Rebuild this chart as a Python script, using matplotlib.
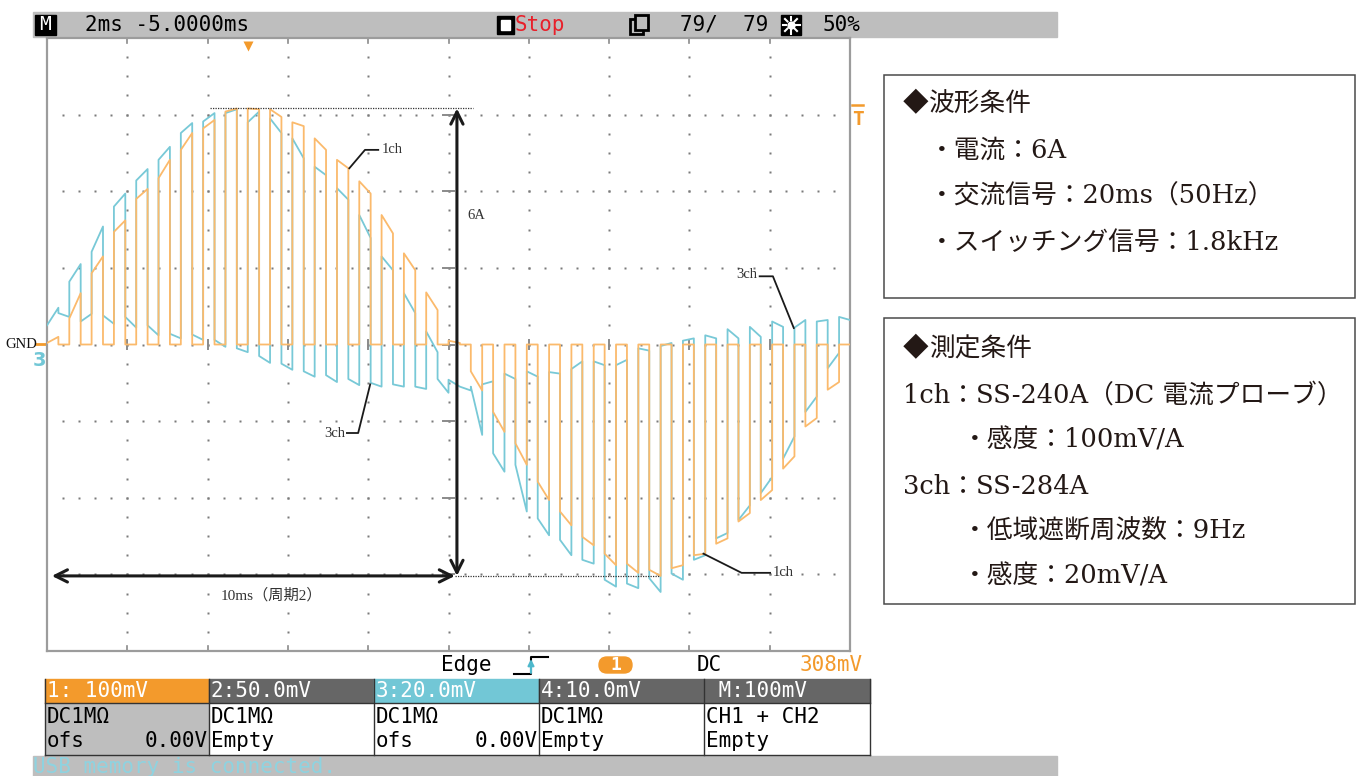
import numpy as np
import matplotlib
matplotlib.use("Agg")
import matplotlib.pyplot as plt
from matplotlib.patches import Rectangle, FancyBboxPatch

# ---------------------------------------------------------------------------
# Acquisition settings: 2 ms/div, 10 div, 1 A/div on both channels
# ---------------------------------------------------------------------------
sweep_ms = 20.0
n_periods = 36          # 1.8 kHz switching over 20 ms
duty = 0.51

# 1ch (DC current probe) level during each ON interval [A]
ch1_on_start = [0.02, 0.34, 0.93, 1.47, 1.90, 2.17, 2.54, 2.82, 3.04, 3.08,
                3.07, 2.90, 2.69, 2.41, 2.13, 1.69, 1.19, 0.68,
                0.05, -0.35, -0.88, -1.29, -1.79, -2.18, -2.51, -2.73, -2.86,
                -2.94, -2.92, -2.75, -2.60, -2.31, -2.03, -1.62, -1.07, -0.59]
ch1_on_end = [0.10, 0.67, 1.15, 1.62, 2.03, 2.41, 2.76, 2.93, 3.08, 3.07,
              2.97, 2.85, 2.54, 2.30, 1.97, 1.45, 0.97, 0.45,
              0.02, -0.60, -1.14, -1.57, -2.03, -2.36, -2.62, -2.88, -2.98,
              -3.02, -2.88, -2.73, -2.53, -2.20, -1.90, -1.46, -0.96, -0.49]

# 3ch (AC current probe, 9 Hz low cut) during ON intervals [A]
ch3_on_start = [0.25, 0.82, 1.21, 1.80, 2.14, 2.41, 2.76, 2.91, 3.02, 2.90,
                2.95, 2.69, 2.32, 2.04, 1.69, 1.15, 0.67, 0.17,
                -0.46, -0.55, -1.42, -1.57, -2.27, -2.55, -2.81, -3.07, -3.12,
                -3.05, -2.99, -2.81, -2.53, -2.29, -1.94, -1.49, -0.88, -0.31]
ch3_on_end = [0.48, 1.05, 1.54, 1.97, 2.29, 2.58, 2.89, 3.02, 3.07, 3.04,
              2.76, 2.43, 2.21, 1.89, 1.39, 0.97, 0.41, -0.10,
              -0.55, -1.18, -1.66, -2.18, -2.49, -2.75, -2.86, -3.16, -3.18,
              -3.23, -3.07, -2.75, -2.46, -2.10, -1.73, -1.20, -0.68, -0.11]
# 3ch during OFF intervals [A]
ch3_off_start = [0.41, 0.30, 0.38, 0.36, 0.25, 0.14, 0.13, 0.06, -0.05, -0.15,
                 -0.25, -0.35, -0.40, -0.45, -0.50, -0.52, -0.55, -0.45,
                 -0.55, -0.52, -0.38, -0.35, -0.36, -0.32, -0.22, -0.27, -0.05,
                 -0.02, 0.05, 0.12, 0.20, 0.23, 0.30, 0.22, 0.30, 0.36]
ch3_off_end = [0.36, 0.40, 0.27, 0.22, 0.12, 0.08, 0.06, -0.03, -0.10, -0.24,
               -0.33, -0.42, -0.49, -0.53, -0.55, -0.55, -0.58, -0.63,
               -0.60, -0.48, -0.45, -0.42, -0.38, -0.22, -0.27, -0.20, -0.08,
               0.02, 0.08, 0.08, 0.08, 0.10, 0.23, 0.32, 0.32, 0.32]

trig_level = 3.08       # 308 mV on 1ch
trig_pos_ms = 5.0

header_labels = ["1: 100mV", "2:50.0mV", "3:20.0mV", "4:10.0mV", " M:100mV"]
row2_labels = ["DC1M\u03a9", "DC1M\u03a9", "DC1M\u03a9", "DC1M\u03a9", "CH1 + CH2"]
row3_left = ["ofs", "Empty", "ofs", "Empty", "Empty"]
row3_right = ["0.00V", "", "0.00V", "", ""]

box1_title = "波形条件"
box1_lines = ["・電流：6A", "・交流信号：20ms（50Hz）", "・スイッチング信号：1.8kHz"]
box2_title = "測定条件"
box2_lines = ["1ch：SS-240A（DC 電流プローブ）", "・感度：100mV/A",
              "3ch：SS-284A", "・低域遮断周波数：9Hz", "・感度：20mV/A"]

# ---------------------------------------------------------------------------
ORANGE = "#FBBA6C"
CYAN = "#78C9D7"
ORANGE_UI = "#F39A2C"
CYAN_UI = "#72C7D6"
GRAY_BAR = "#BEBEBE"
DARK_UI = "#666666"
MONO = "DejaVu Sans Mono"
SERIF = ["Liberation Serif", "Noto Sans CJK JP", "DejaVu Sans"]
BOXFONT = ["DejaVu Serif", "Noto Sans CJK JP", "DejaVu Sans"]
CJK = ["Noto Sans CJK JP", "DejaVu Sans"]

W, H = 1363, 776
fig = plt.figure(figsize=(W / 100, H / 100), dpi=100)
fig.patch.set_facecolor("white")

ov = fig.add_axes([0, 0, 1, 1], zorder=0)
ov.set_xlim(0, W)
ov.set_ylim(H, 0)
ov.axis("off")

L, R, TOP, BOT = 47, 850, 38, 651
ax = fig.add_axes([L / W, (H - BOT) / H, (R - L) / W, (BOT - TOP) / H], zorder=2)
ax.set_xlim(0, sweep_ms)
ax.set_ylim(-4, 4)
ax.set_xticks([])
ax.set_yticks([])
for s in ax.spines.values():
    s.set_color("#9c9c9c")
    s.set_linewidth(1.6)

# graticule
dot = dict(ls="none", marker="s", ms=1.6, color="#7a7a7a", mec="none")
xs = np.arange(1, 50) * 0.4
for yv in range(-3, 4):
    ax.plot(xs, np.full_like(xs, yv), **dot)
ys = np.arange(-15, 16) * 0.25
for xv in range(2, 20, 2):
    ax.plot(np.full_like(ys, xv), ys, **dot)
for xv in range(2, 20, 2):
    ax.plot([xv, xv], [-0.06, 0.06], color="#8a8a8a", lw=1.4)
    ax.plot([xv, xv], [4, 3.93], color="#8a8a8a", lw=1.2)
    ax.plot([xv, xv], [-4, -3.93], color="#8a8a8a", lw=1.2)
for yv in range(-3, 4):
    ax.plot([9.87, 10.13], [yv, yv], color="#8a8a8a", lw=1.4)


def build_trace(on_s, on_e, off_s, off_e):
    T = sweep_ms / n_periods
    t, v = [], []
    for m in range(n_periods):
        t0 = m * T
        t1 = t0 + duty * T
        t += [t0, t1, t1, t0 + T]
        v += [on_s[m], on_e[m], off_s[m], off_e[m]]
    return np.array(t), np.array(v)


zeros = [0.0] * n_periods
t3, v3 = build_trace(ch3_on_start, ch3_on_end, ch3_off_start, ch3_off_end)
t1, v1 = build_trace(ch1_on_start, ch1_on_end, zeros, zeros)
ax.plot(t3, v3, color=CYAN, lw=1.3, zorder=3)
ax.plot(t1, v1, color=ORANGE, lw=1.3, zorder=4)

# markers: trigger position / level
ax.plot([trig_pos_ms], [3.9], marker="v", color=ORANGE_UI, ms=7, mec="none",
        clip_on=False, zorder=6)
ax.plot([20.05, 20.32], [trig_level + 0.05, trig_level + 0.05],
        color=ORANGE_UI, lw=1.8, clip_on=False)
ax.text(20.19, trig_level - 0.02, "T", color=ORANGE_UI, fontsize=14,
        fontweight="bold", family=MONO, ha="center", va="top", clip_on=False)

# amplitude / period annotation
ymax, ymin = max(ch1_on_start + ch1_on_end), min(ch1_on_start + ch1_on_end)
ax.plot([4.06, 10.6], [ymax, ymax], color="#333333", lw=0.9, ls=(0, (1, 1)), zorder=5)
ax.plot([10.15, 15.27], [ymin, ymin], color="#333333", lw=0.9, ls=(0, (1, 1)), zorder=5)
arrow = dict(arrowstyle="<->", color="#1a1a1a", lw=2.2, mutation_scale=22,
             shrinkA=0, shrinkB=0)
ax.annotate("", xy=(10.21, ymax), xytext=(10.21, ymin), arrowprops=arrow, zorder=6)
ax.annotate("", xy=(0.12, ymin), xytext=(10.16, ymin), arrowprops=arrow, zorder=6)
ax.text(10.46, 1.68, "6A", fontsize=10.5, family=SERIF, color="#333333",
        ha="left", va="center")
ax.text(5.6, -3.27, "10ms（周期2）", fontsize=11, family=SERIF, color="#333333",
        ha="center", va="center")

# channel callouts
lead = dict(color="#1a1a1a", lw=1.3, zorder=6)
ax.plot([7.53, 7.92, 8.25], [2.30, 2.54, 2.54], **lead)
ax.text(8.33, 2.54, "1ch", fontsize=10.5, family=SERIF, color="#333333", va="center")
ax.plot([8.05, 7.75, 7.47], [-0.52, -1.155, -1.155], **lead)
ax.text(7.42, -1.155, "3ch", fontsize=10.5, family=SERIF, color="#333333",
        ha="right", va="center")
ax.plot([16.35, 17.30, 18.01], [-2.73, -2.98, -2.98], **lead)
ax.text(18.08, -2.98, "1ch", fontsize=10.5, family=SERIF, color="#333333", va="center")
ax.plot([18.6, 18.08, 17.75], [0.215, 0.89, 0.89], **lead)
ax.text(17.68, 0.91, "3ch", fontsize=10.5, family=SERIF, color="#333333",
        ha="right", va="center")

# GND marker
ov.text(5, 345, "GND", fontsize=10.5, family=SERIF, color="#111111", va="center")
ov.plot([36, 47], [344, 344], color=ORANGE_UI, lw=2)
ov.text(39, 361, "3", fontsize=14, fontweight="bold", color=CYAN_UI,
        ha="center", va="center", family="DejaVu Sans")

# ---------------------------------------------------------------------------
# top status bar
ov.add_patch(Rectangle((33, 12), 1024, 25, color=GRAY_BAR, zorder=1))
ov.add_patch(Rectangle((35, 15), 21, 20, color="black", zorder=2))
ov.text(45.5, 25, "M", color="white", fontsize=14, family=MONO, ha="center",
        va="center", zorder=3)
ov.text(85, 25, "2ms -5.0000ms", color="black", fontsize=15, family=MONO,
        va="center", zorder=3)
ov.add_patch(Rectangle((497, 16), 17, 18, color="black", zorder=2))
ov.add_patch(Rectangle((501, 20), 9, 10, facecolor="white", edgecolor="white", zorder=3))
ov.text(515, 25, "Stop", color="#E8202A", fontsize=15, family=MONO,
        va="center", zorder=3)
ov.add_patch(Rectangle((630, 19), 13, 15, facecolor=GRAY_BAR, edgecolor="black",
                       lw=2, zorder=2))
ov.add_patch(Rectangle((635, 15), 13, 15, facecolor=GRAY_BAR, edgecolor="black",
                       lw=2, zorder=3))
ov.text(680, 25, "79/  79", color="black", fontsize=15, family=MONO,
        va="center", zorder=3)
ov.add_patch(Rectangle((781, 15), 20, 20, color="black", zorder=2))
ov.plot([791], [25], marker="o", ms=6, color="white", mec="none", zorder=3)
for ang in np.arange(8) * np.pi / 4:
    ov.plot([791 + 5 * np.cos(ang), 791 + 8.5 * np.cos(ang)],
            [25 + 5 * np.sin(ang), 25 + 8.5 * np.sin(ang)],
            color="white", lw=1.5, zorder=3)
ov.text(823, 25, "50%", color="black", fontsize=15, family=MONO,
        va="center", zorder=3)

# trigger line
ov.text(441, 665, "Edge", color="black", fontsize=15, family=MONO, va="center")
ov.plot([514, 531, 531, 548], [674, 674, 657, 657], color="black", lw=1.5)
ov.annotate("", xy=(531, 659), xytext=(531, 673),
            arrowprops=dict(arrowstyle="-|>", color="#4DB8CC", lw=1.5,
                            mutation_scale=9, shrinkA=0, shrinkB=0))
ov.add_patch(FancyBboxPatch((599, 657), 33, 16,
                            boxstyle="round,pad=0,rounding_size=8",
                            color=ORANGE_UI))
ov.text(615.5, 665, "1", color="white", fontsize=13, fontweight="bold",
        family=MONO, ha="center", va="center")
ov.text(697, 665, "DC", color="black", fontsize=15, family=MONO, va="center")
ov.text(800, 665, "308mV", color=ORANGE_UI, fontsize=15, family=MONO, va="center")

# channel table
cols = [45, 209, 374, 539, 704, 870]
head_bg = [ORANGE_UI, DARK_UI, CYAN_UI, DARK_UI, DARK_UI]
for i in range(5):
    x0, x1 = cols[i], cols[i + 1]
    ov.add_patch(Rectangle((x0, 679), x1 - x0, 24, color=head_bg[i], zorder=1))
    ov.add_patch(Rectangle((x0, 703), x1 - x0, 52,
                           facecolor=GRAY_BAR if i == 0 else "white",
                           edgecolor="none", zorder=1))
    ov.text(x0 + 2, 691, header_labels[i], color="white", fontsize=15,
            family=MONO, va="center", zorder=3)
    ov.text(x0 + 2, 717, row2_labels[i], color="black", fontsize=15,
            family=MONO, va="center", zorder=3)
    ov.text(x0 + 2, 741, row3_left[i], color="black", fontsize=15,
            family=MONO, va="center", zorder=3)
    if row3_right[i]:
        ov.text(x1 - 1, 741, row3_right[i], color="black", fontsize=15,
                family=MONO, va="center", ha="right", zorder=3)
for x in cols:
    ov.plot([x, x], [679, 755], color="#333333", lw=1, zorder=2)
ov.plot([45, 870], [755, 755], color="#333333", lw=1, zorder=2)
ov.plot([45, 870], [703, 703], color="#333333", lw=1, zorder=2)

# message bar
ov.add_patch(Rectangle((33, 756), 1024, 25, color=GRAY_BAR, zorder=1))
ov.text(33, 757, "USB memory is connected.", color="#8ED3E0", fontsize=15,
        family=MONO, va="top", zorder=3)

# condition boxes
ov.add_patch(Rectangle((884, 75), 471, 223, facecolor="white",
                       edgecolor="#4a4a4a", lw=1.1))
ov.add_patch(Rectangle((884, 318), 471, 286, facecolor="white",
                       edgecolor="#4a4a4a", lw=1.1))
TXT = "#231815"
for title, y in [(box1_title, 104), (box2_title, 349)]:
    ov.text(903, y, "\u25c6", fontsize=18.5, family=CJK, color=TXT, va="center")
    ov.text(929, y, title, fontsize=18.5, family=BOXFONT, color=TXT, va="center")
box1_x = [929, 929, 929]
box1_y = [150, 196, 242]
for s, x, y in zip(box1_lines, box1_x, box1_y):
    ov.text(x, y, s, fontsize=18.5, family=BOXFONT, color=TXT, va="center")
box2_x = [903, 962, 903, 962, 962]
box2_y = [395, 440, 486, 531, 576]
for s, x, y in zip(box2_lines, box2_x, box2_y):
    ov.text(x, y, s, fontsize=18.5, family=BOXFONT, color=TXT, va="center")

fig.savefig("out.png", dpi=100)
